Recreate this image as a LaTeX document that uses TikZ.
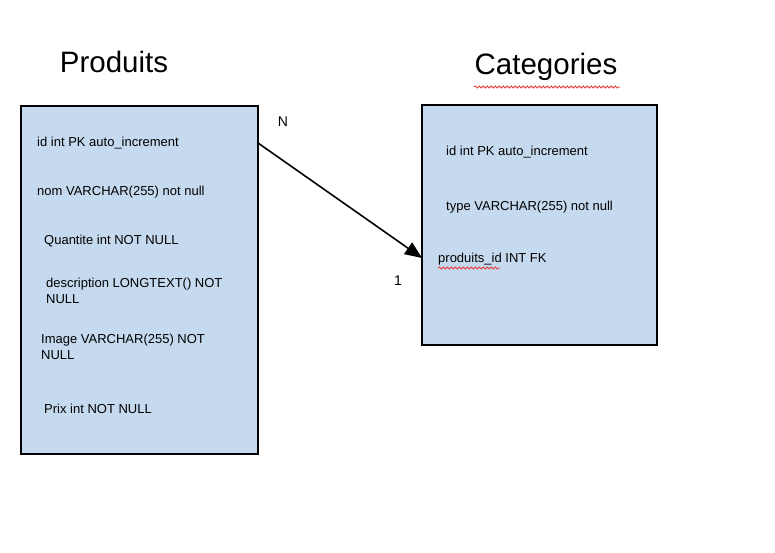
\documentclass[tikz,border=0pt]{standalone}
\usepackage{fontspec}
\setmainfont{Liberation Sans}
\usetikzlibrary{arrows.meta,decorations.pathmorphing}
\definecolor{boxblue}{RGB}{198,218,239}
\definecolor{squig}{RGB}{230,60,60}
\tikzset{
  table/.style={draw=black,line width=1.6pt,fill=boxblue},
  field/.style={anchor=west,inner sep=0pt,font=\fontsize{13}{15.5}\selectfont,align=left},
  title/.style={inner sep=0pt,font=\fontsize{29.5}{34}\selectfont},
  card/.style={inner sep=0pt,font=\fontsize{14}{16}\selectfont},
  rel/.style={line width=1.6pt,-{Triangle[length=17pt,width=14pt]}},
  spell/.style={squig,line width=0.8pt,decorate,decoration={snake,amplitude=1pt,segment length=4pt}}
}
\begin{document}
\begin{tikzpicture}[x=1pt,y=-1pt]
\useasboundingbox (0,0) rectangle (775,553);
% tables
\path[table] (21,106) rectangle (258,454);
\coordinate (prodNE) at (258,143);
\path[table] (422,105) rectangle (657,345);
\coordinate (catW) at (422,258);
% titles
\node[title] (tprod) at (114,62) {Produits};
\node[title] (tcat) at (546,67) {Categories};
\draw[spell] (474,87) -- (620,87);
% Produits fields
\node[field] (p1) at (37,143.5) {id int PK auto\_increment};
\node[field] (p2) at (37,192.5) {nom VARCHAR(255) not null};
\node[field] (p3) at (44,241.5) {Quantite int NOT NULL};
\node[field] (p4) at (46,291) {description LONGTEXT() NOT\\NULL};
\node[field] (p5) at (41,347) {Image VARCHAR(255) NOT\\NULL};
\node[field] (p6) at (44,408.5) {Prix int NOT NULL};
% Categories fields
\node[field] (c1) at (446,152.5) {id int PK auto\_increment};
\node[field] (c2) at (446,207.5) {type VARCHAR(255) not null};
\node[field] (c3) at (438,259.5) {produits\_id INT FK};
\draw[spell] (438,268) -- (500,268);
% relation
\draw[rel] (prodNE) -- (catW);
\node[card] (n) at (283,122) {N};
\node[card] (one) at (398,281) {1};
\end{tikzpicture}
\end{document}
